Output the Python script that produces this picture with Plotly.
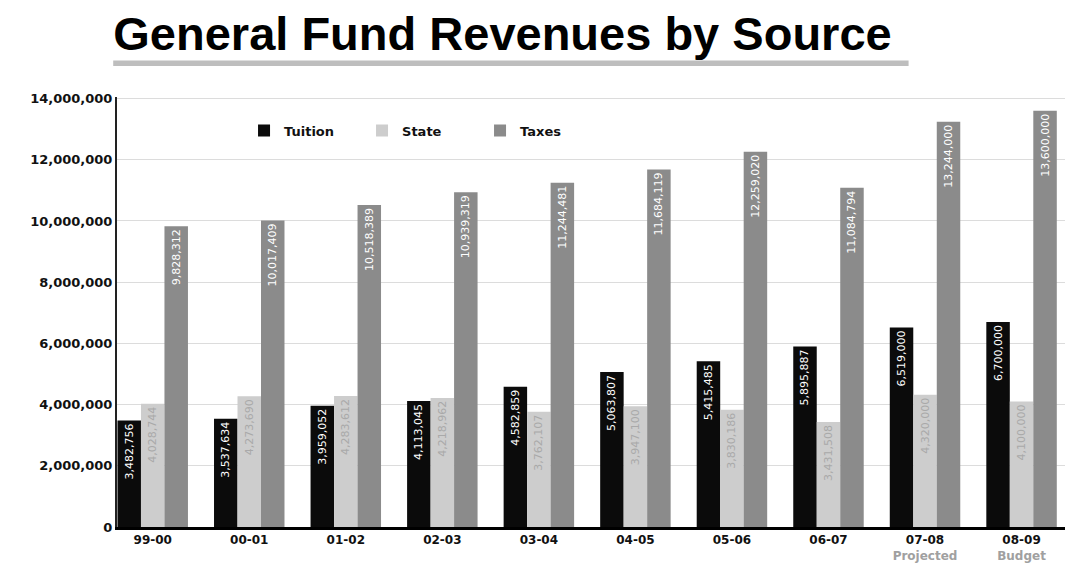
import plotly.graph_objects as go

# Fiscal years and revenue by source (dollars)
years = ["99-00", "00-01", "01-02", "02-03", "03-04", "04-05", "05-06", "06-07", "07-08", "08-09"]
year_notes = ["", "", "", "", "", "", "", "", "Projected", "Budget"]
tuition = [3482756, 3537634, 3959052, 4113045, 4582859, 5063807, 5415485, 5895887, 6519000, 6700000]
state = [4028744, 4273690, 4283612, 4218962, 3762107, 3947100, 3830186, 3431508, 4320000, 4100000]
taxes = [9828312, 10017409, 10518389, 10939319, 11244481, 11684119, 12259020, 11084794, 13244000, 13600000]

y_ticks = [0, 2000000, 4000000, 6000000, 8000000, 10000000, 12000000, 14000000]

tick_text = [
    f"<b>{y}</b>" + (f"<br><b><span style='color:#a0a0a0'>{n}</span></b>" if n else "")
    for y, n in zip(years, year_notes)
]

def fmt(v):
    return f"{v:,}"

series = [
    ("Tuition", tuition, "#0b0b0b", "#ffffff"),
    ("State", state, "#cdcdcd", "#a9a9a9"),
    ("Taxes", taxes, "#8b8b8b", "#ffffff"),
]

fig = go.Figure()
for name, vals, color, txtcol in series:
    fig.add_trace(go.Bar(
        name=name,
        x=list(range(len(years))),
        y=vals,
        marker=dict(color=color, line=dict(width=0)),
        text=[fmt(v) for v in vals],
        textposition="inside",
        insidetextanchor="end",
        textangle=-90,
        constraintext="none",
        textfont=dict(family="DejaVu Sans", size=11, color=txtcol),
    ))

fig.update_layout(
    width=1069, height=576,
    margin=dict(l=117, r=4, t=97, b=49),
    paper_bgcolor="#ffffff",
    plot_bgcolor="#ffffff",
    barmode="group",
    bargap=0.27,
    bargroupgap=0,
    font=dict(family="DejaVu Sans", color="#111111"),
    showlegend=True,
    legend=dict(
        orientation="h",
        x=0.134, y=0.957, xanchor="left", yanchor="top",
        font=dict(family="DejaVu Sans", size=13, color="#111111", weight="bold"),
        entrywidth=73,
        bgcolor="rgba(0,0,0,0)",
        itemclick=False,
    ),
    xaxis=dict(
        tickmode="array",
        tickvals=list(range(len(years))),
        ticktext=tick_text,
        range=[-0.37, 9.45],
        showgrid=False,
        showline=True, linecolor="#000000", linewidth=3,
        ticks="",
        tickfont=dict(family="DejaVu Sans", size=12, color="#111111"),
        zeroline=False,
    ),
    yaxis=dict(
        range=[0, 14050000],
        tickvals=y_ticks,
        ticktext=[f"<b>{v:,}</b>" for v in y_ticks],
        showgrid=True, gridcolor="#dcdcdc", gridwidth=1,
        showline=True, linecolor="#222222", linewidth=2,
        ticks="",
        tickfont=dict(family="DejaVu Sans", size=13, color="#111111"),
        zeroline=False,
    ),
    title=dict(
        text="<b>General Fund Revenues by Source</b>",
        x=0.106, xanchor="left",
        y=0.97, yanchor="top",
        font=dict(family="Liberation Sans, Arial, sans-serif", size=47, color="#000000"),
    ),
)

# soft grey rule under the title
fig.add_shape(
    type="rect", xref="paper", yref="paper",
    x0=-0.004, x1=0.835, y0=1.072, y1=1.085,
    fillcolor="#b3b3b3", line=dict(width=0), opacity=0.85,
)

fig.write_html("out.html")
